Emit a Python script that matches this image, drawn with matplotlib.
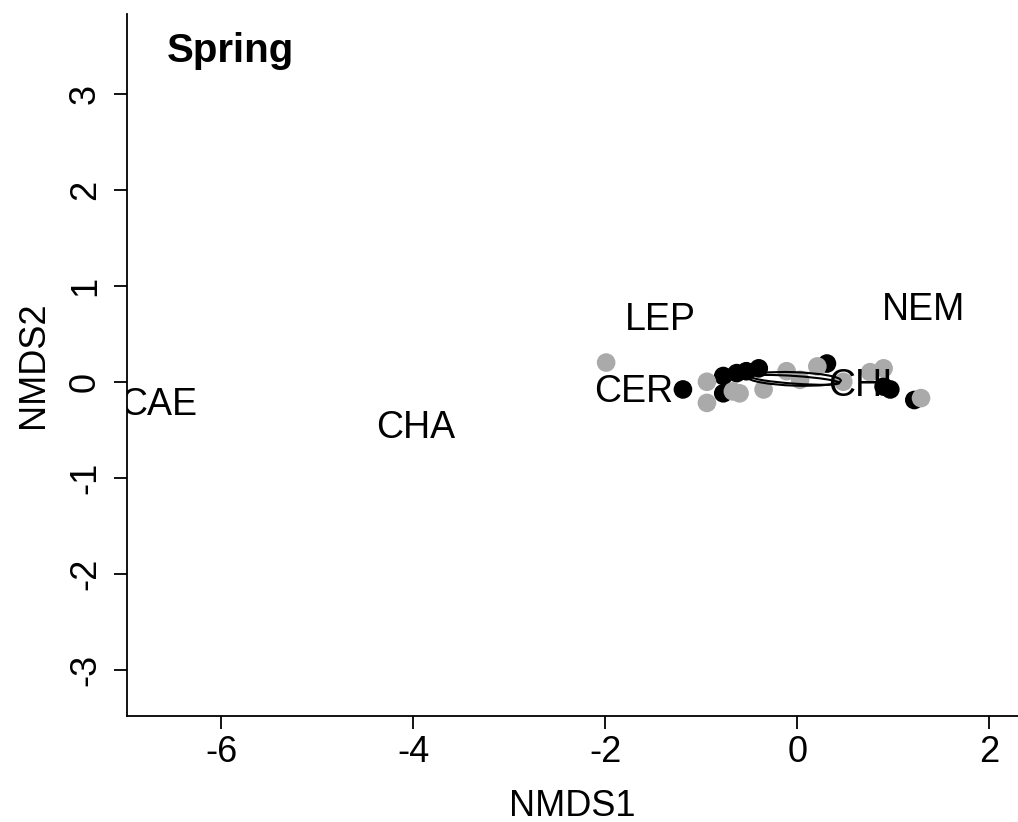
import matplotlib
matplotlib.use("Agg")
import matplotlib.pyplot as plt
from matplotlib.patches import Ellipse

plt.rcParams['font.family'] = ['Liberation Sans', 'DejaVu Sans']
plt.rcParams['axes.unicode_minus'] = False

# site scores (NMDS1, NMDS2) and group colour
site_x = [-1.19, -0.77, -0.77, -0.63, -0.53, -0.40, 0.31, 0.90, 0.97, 1.22,
          -1.99, -0.94, -0.94, -0.67, -0.60, -0.35, -0.11, 0.03, 0.21, 0.48, 0.76, 0.90, 1.29]
site_y = [-0.08, 0.06, -0.12, 0.09, 0.11, 0.14, 0.19, -0.05, -0.08, -0.19,
          0.20, 0.00, -0.22, -0.10, -0.12, -0.08, 0.11, 0.02, 0.16, 0.00, 0.10, 0.14, -0.17]
site_group = ['b'] * 10 + ['g'] * 13
group_col = {'b': 'black', 'g': '#aaaaaa'}

# species scores
species = ['CAE', 'CHA', 'LEP', 'CER', 'NEM', 'CHI']
spec_x = [-6.65, -3.97, -1.42, -1.70, 1.32, 0.66]
spec_y = [-0.24, -0.48, 0.64, -0.11, 0.75, -0.04]

# group ellipses: centre x, centre y, width, height, angle
ell_cx = [-0.03, -0.02]
ell_cy = [0.03, 0.02]
ell_w = [0.97, 0.92]
ell_h = [0.14, 0.08]
ell_ang = [-2, -4]

fig = plt.figure(figsize=(10.18, 8.22), dpi=100)
ax = fig.add_axes([0.1248, 0.129, 0.8752, 0.854])

ax.scatter(site_x, site_y, s=180, c=[group_col[g] for g in site_group],
           edgecolors='none', zorder=2)

for cx, cy, w, h, a in zip(ell_cx, ell_cy, ell_w, ell_h, ell_ang):
    ax.add_patch(Ellipse((cx, cy), w, h, angle=a, fill=False,
                         edgecolor='black', lw=1.5, zorder=3))

for name, x, y in zip(species, spec_x, spec_y):
    ax.text(x, y, name, ha='center', va='center', fontsize=27,
            color='black', zorder=4, clip_on=True)

ax.text(-6.57, 3.44, 'Spring', ha='left', va='center', fontsize=29,
        fontweight='bold')

ax.set_xlim(-6.98, 2.30)
ax.set_ylim(-3.48, 3.83)
ax.set_xticks([-6, -4, -2, 0, 2])
ax.set_yticks([-3, -2, -1, 0, 1, 2, 3])
ax.spines['top'].set_visible(False)
ax.spines['right'].set_visible(False)
ax.spines['left'].set_linewidth(1.3)
ax.spines['bottom'].set_linewidth(1.3)
ax.tick_params(axis='both', labelsize=26, length=9.4, width=1.3)
ax.tick_params(axis='x', pad=4)
ax.tick_params(axis='y', pad=8)
for lab in ax.get_yticklabels():
    lab.set_rotation(90)
    lab.set_va('center')

ax.set_xlabel('NMDS1', fontsize=26, labelpad=14)
ax.set_ylabel('NMDS2', fontsize=26, labelpad=12)

fig.savefig('out.png', dpi=100)
